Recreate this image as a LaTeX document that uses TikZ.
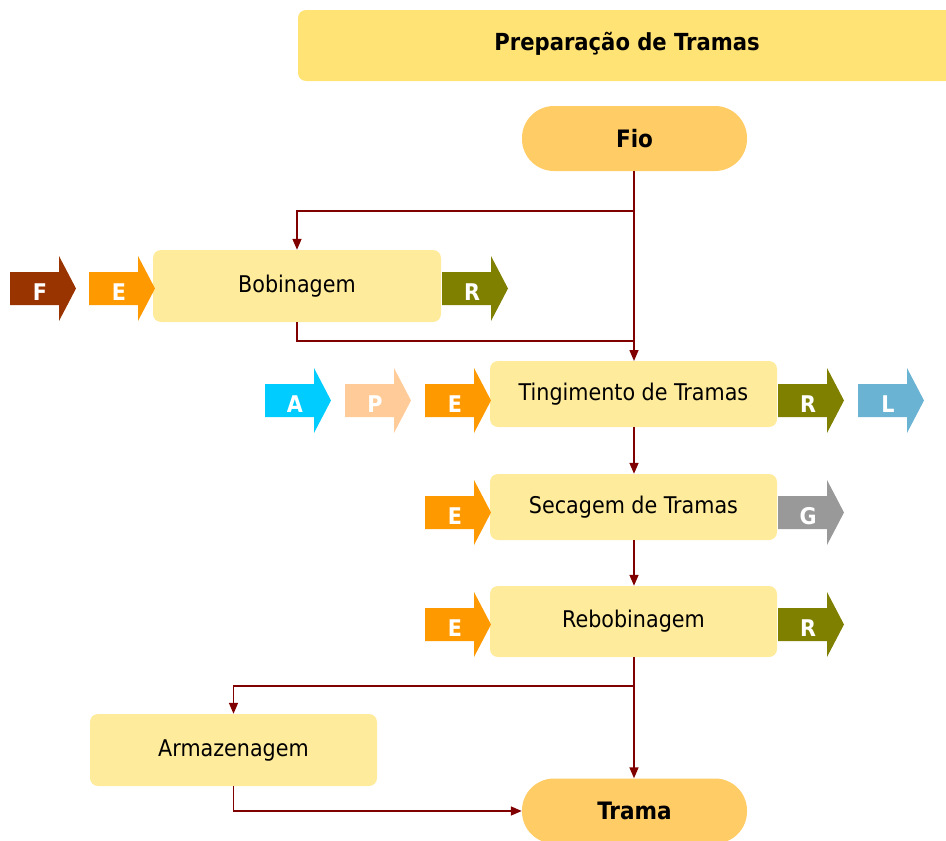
\documentclass[tikz,border=0pt]{standalone}
\usepackage{fontspec}
\setmainfont{DejaVu Sans Condensed}
\usetikzlibrary{arrows.meta}
\definecolor{boxfill}{HTML}{FFEB9C}
\definecolor{headfill}{HTML}{FFE375}
\definecolor{termfill}{HTML}{FFCC66}
\definecolor{flow}{HTML}{800000}
\definecolor{cF}{HTML}{993300}
\definecolor{cE}{HTML}{FF9900}
\definecolor{cR}{HTML}{808000}
\definecolor{cA}{HTML}{00CCFF}
\definecolor{cP}{HTML}{FFCC99}
\definecolor{cL}{HTML}{6BB3D3}
\definecolor{cG}{HTML}{999999}

% block arrow for inputs/outputs: left edge x, centre y, colour, letter
\newcommand\ioarrow[5]{%
  \fill[#4,shift={(#2,#3)}] (0,-16.5) -- (49,-16.5) -- (49,-32.5) -- (66,0)
    -- (49,32.5) -- (49,16.5) -- (0,16.5) -- cycle;
  \node[iolabel] (#1) at ([shift={(#2,#3)}]30,3.5) {#5};}

\begin{document}
\begin{tikzpicture}[x=1pt,y=-1pt,
  proc/.style={rectangle, rounded corners=8pt, fill=boxfill, minimum width=287pt,
    inner sep=0pt, font=\fontsize{23}{27}\selectfont},
  term/.style={rectangle, rounded corners=32pt, fill=termfill, minimum width=225pt,
    minimum height=65pt, inner sep=0pt, font=\bfseries\fontsize{24}{28}\selectfont},
  header/.style={rectangle, rounded corners=8pt, fill=headfill, minimum width=662pt,
    minimum height=71pt, inner sep=0pt, font=\bfseries\fontsize{23.5}{28}\selectfont},
  iolabel/.style={text=white, inner sep=0pt, font=\bfseries\fontsize{23}{27}\selectfont},
  link/.style={draw=flow, line width=1.5pt},
  tip/.style={link, -{Triangle[length=11pt,width=9pt]}}]
\useasboundingbox (0,0) rectangle (946,841);

% title bar
\node[header] (title) at (629,45.5) {};
\node[font=\bfseries\fontsize{23.5}{28}\selectfont] (titletext) at (627,44) {Preparação de Tramas};

% terminals
\node[term] (fio) at (634.5,138.5) {Fio};
\node[term] (trama) at (634.5,811) {Trama};

% process steps
\node[proc, minimum width=288pt, minimum height=72pt] (bob) at (297,286) {Bobinagem};
\node[proc, minimum height=66pt] (ting) at (633.5,394) {Tingimento de Tramas};
\node[proc, minimum height=66pt] (sec) at (633.5,507) {Secagem de Tramas};
\node[proc, minimum height=71pt] (reb) at (633.5,621.5) {Rebobinagem};
\node[proc, minimum height=72pt] (arm) at (233.5,750) {Armazenagem};

% inputs and outputs
\ioarrow{bF}{10}{288.5}{cF}{F}
\ioarrow{bE}{89}{288.5}{cE}{E}
\ioarrow{bR}{442}{288.5}{cR}{R}
\ioarrow{tA}{265}{400.5}{cA}{A}
\ioarrow{tP}{345}{400.5}{cP}{P}
\ioarrow{tE}{425}{400.5}{cE}{E}
\ioarrow{tR}{778}{400.5}{cR}{R}
\ioarrow{tL}{858}{400.5}{cL}{L}
\ioarrow{sE}{425}{512.5}{cE}{E}
\ioarrow{sG}{778}{512.5}{cG}{G}
\ioarrow{rE}{425}{624.5}{cE}{E}
\ioarrow{rR}{778}{624.5}{cR}{R}

% flow connectors
\coordinate (split1) at (634,211);
\coordinate (join1) at (634,341);
\coordinate (split2) at (634,686);
\draw[tip] (634,171) -- (634,361);
\draw[tip] (split1) -| (bob.north);
\draw[link] (bob.south) |- (join1);
\draw[tip] (ting.south -| 634,0) -- (sec.north -| 634,0);
\draw[tip] (sec.south -| 634,0) -- (reb.north -| 634,0);
\draw[tip] (reb.south -| 634,0) -- (trama.north -| 634,0);
\draw[tip] (split2) -| (arm.north);
\draw[tip] (arm.south) |- (trama.west);
\end{tikzpicture}
\end{document}
